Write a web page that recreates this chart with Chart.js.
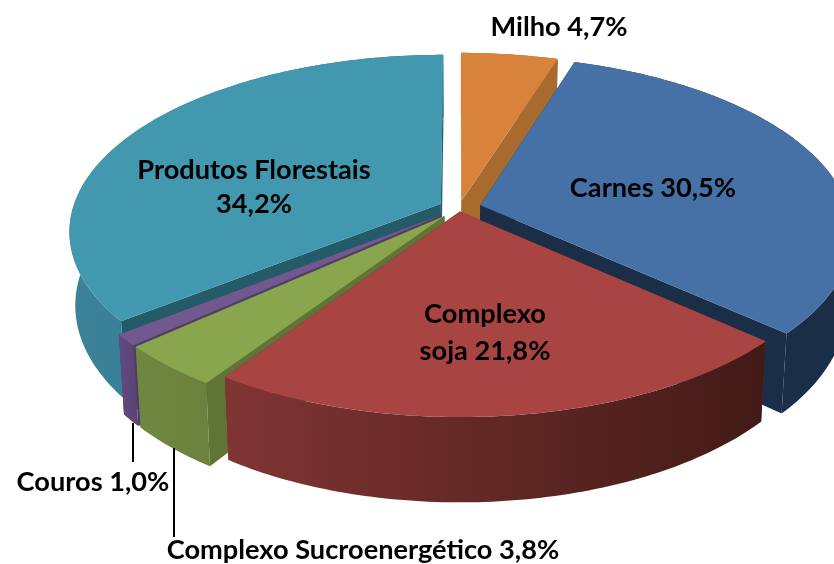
<!DOCTYPE html>
<html>
<head>
<meta charset="utf-8">
<title>Exportações</title>
<script src="https://cdn.jsdelivr.net/npm/chart.js@4"></script>
<style>
  html, body { margin: 0; padding: 0; background: #fff; overflow: hidden; }
  canvas { display: block; }
</style>
</head>
<body>
<canvas id="myChart" width="834" height="564"></canvas>
<script>
const categories = ['Milho', 'Carnes', 'Complexo soja', 'Complexo Sucroenergético', 'Couros', 'Produtos Florestais'];
const shares = [4.7, 30.5, 21.8, 3.8, 1.0, 34.2];
const valueLabels = ['4,7%', '30,5%', '21,8%', '3,8%', '1,0%', '34,2%'];

const topColors = ['#d9823c', '#4671a6', '#a84442', '#89a54e', '#71588f', '#4198af'];
const edgeColors = ['#a86b2e', '#1a2e47', '#6e2c2a', '#5f7436', '#4f3d66', '#235b68'];
const wallLeft = ['#a86b2e', '#1a2e47', '#803533', '#708741', '#63497f', '#3a8399'];
const wallRight = ['#a86b2e', '#1a2e47', '#421a17', '#6b813d', '#5c4577', '#2f7185'];
const explode = [8, 12, 4, 12, 12, 11];
// back slices get painted first so the front ones cover them
const paintOrder = [0, 5, 1, 4, 3, 2];

// perspective of the tilted pie, fitted by eye
const radiusX = 368, radiusY = 173, tilt = 0.153, depth = 72, taper = 0.985;

function project(arc, u, v, down) {
    const w = 1 / (1 - tilt * v);
    let x = radiusX * u * w;
    let y = radiusY * v * w;
    if (down) {
        x *= taper;
        y += depth * w;
    }
    return [arc.x + x, arc.y + y];
}

function facePoints(arc, i, down) {
    const mid = (arc.startAngle + arc.endAngle) / 2;
    const ox = explode[i] / 200 * Math.cos(mid);
    const oy = explode[i] / 200 * Math.sin(mid);
    const pts = [project(arc, ox, oy, down)];
    const steps = Math.ceil((arc.endAngle - arc.startAngle) * 60);
    for (let s = 0; s <= steps; s++) {
        const a = arc.startAngle + (arc.endAngle - arc.startAngle) * s / steps;
        pts.push(project(arc, ox + Math.cos(a), oy + Math.sin(a), down));
    }
    return pts;
}

function fillPoly(ctx, pts, color) {
    ctx.beginPath();
    pts.forEach((p, n) => n ? ctx.lineTo(p[0], p[1]) : ctx.moveTo(p[0], p[1]));
    ctx.closePath();
    ctx.fillStyle = color;
    ctx.fill();
}

const pie3d = {
    id: 'pie3d',
    // the library's flat arcs are replaced by the projected ones
    beforeDatasetDraw(chart) {
        const ctx = chart.ctx;
        const arcs = chart.getDatasetMeta(0).data;
        paintOrder.forEach(i => {
            const top = facePoints(arcs[i], i, false);
            const bottom = facePoints(arcs[i], i, true);
            const last = top.length - 1;
            // straight cut walls
            fillPoly(ctx, [top[0], top[1], bottom[1], bottom[0]], edgeColors[i]);
            fillPoly(ctx, [top[0], top[last], bottom[last], bottom[0]], edgeColors[i]);
            // outer rim
            const rimTop = top.slice(1);
            const rimBottom = bottom.slice(1).reverse();
            const xs = rimTop.map(p => p[0]);
            const grad = ctx.createLinearGradient(Math.min(...xs), 0, Math.max(...xs), 0);
            grad.addColorStop(0, wallLeft[i]);
            grad.addColorStop(1, wallRight[i]);
            fillPoly(ctx, rimTop.concat(rimBottom), grad);
            fillPoly(ctx, top, topColors[i]);
        });
        return false;
    },
    afterDraw(chart) {
        const ctx = chart.ctx;
        ctx.save();
        ctx.strokeStyle = '#000';
        ctx.lineWidth = 2;
        ctx.beginPath();
        ctx.moveTo(133, 423); ctx.lineTo(133, 462);
        ctx.moveTo(174, 448); ctx.lineTo(174, 537);
        ctx.stroke();
        ctx.fillStyle = '#000';
        ctx.font = 'bold 27.2px Lato';
        ctx.textAlign = 'center';
        ctx.textBaseline = 'middle';
        ctx.fillText(categories[0] + ' ' + valueLabels[0], 559, 27);
        ctx.fillText(categories[1] + ' ' + valueLabels[1], 653, 188);
        ctx.fillText('Complexo', 485, 314);
        ctx.fillText('soja ' + valueLabels[2], 485, 351);
        ctx.fillText(categories[3] + ' ' + valueLabels[3], 363, 550);
        ctx.fillText(categories[4] + ' ' + valueLabels[4], 93, 482);
        ctx.fillText(categories[5], 254, 170);
        ctx.fillText(valueLabels[5], 254, 204);
        ctx.restore();
    }
};

const myChart = new Chart(document.getElementById('myChart').getContext('2d'), {
    type: 'pie',
    data: {
        labels: categories,
        datasets: [{
            data: shares,
            backgroundColor: topColors,
            borderWidth: 0
        }]
    },
    options: {
        responsive: false,
        animation: false,
        layout: { padding: { left: 84, bottom: 148 } },
        plugins: { legend: { display: false }, tooltip: { enabled: false } }
    },
    plugins: [pie3d]
});
</script>
</body>
</html>
